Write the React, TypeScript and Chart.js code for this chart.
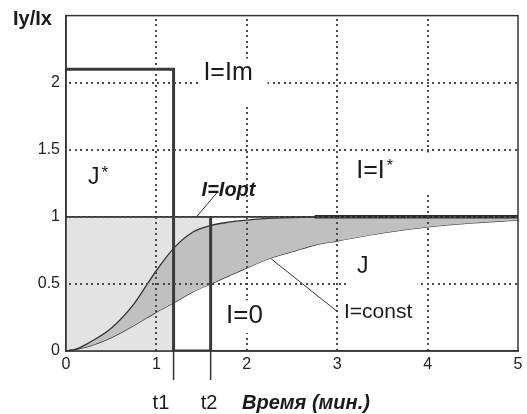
import React, { useEffect, useRef } from 'react';
import { Chart, registerables } from 'chart.js';

Chart.register(...registerables);

// ---- data ----
const T1 = 1.19;
const T2 = 1.6;
const I_MAX = 2.1;

const TIME_OPT = [0, 0.1, 0.25, 0.5, 0.75, 0.9, 1.0, 1.19, 1.4, 1.6, 1.8, 2.0, 2.3, 2.75, 3.5, 4.25, 5];
const I_OPT = [0, 0.01, 0.06, 0.17, 0.35, 0.5, 0.6, 0.765, 0.885, 0.935, 0.96, 0.975, 0.99, 0.998, 1.0, 1.0, 1.0];

const TIME_CONST = [0, 0.25, 0.5, 0.75, 1.0, 1.19, 1.4, 1.6, 1.8, 2.0, 2.25, 2.5, 2.75, 3.0, 3.5, 4.0, 4.5, 5.0];
const I_CONST = [0, 0.035, 0.1, 0.19, 0.29, 0.36, 0.44, 0.5, 0.56, 0.62, 0.69, 0.74, 0.79, 0.82, 0.88, 0.925, 0.955, 0.975];

const IM_PATH_T = [0, T1, T1, T2, T2];
const IM_PATH_V = [I_MAX, I_MAX, 0, 0, 1];

const ISTAR_T = [2.75, 5];
const ISTAR_V = [1, 1];

const ONE_T = [0, 5];
const ONE_V = [1, 1];

const JSTAR_A_T = [0, T1];
const JSTAR_A_V = [1, 1];
const JSTAR_B_T = [T1, T2];
const JSTAR_B_V = [1, 1];

const LEAD_OPT_T = [1.67, 1.23];
const LEAD_OPT_V = [1.18, 0.83];
const LEAD_CONST_T = [2.27, 2.99];
const LEAD_CONST_V = [0.687, 0.3];

const X_MIN = 0, X_MAX = 5, X_STEP = 1;
const Y_MIN = 0, Y_MAX = 2.5, Y_STEP = 0.5;

const pts = (xs: number[], ys: number[]) => xs.map((x, i) => ({ x, y: ys[i] }));

const FONT = "'Liberation Sans', Arial, sans-serif";
const INK = '#222';
const LIGHT = '#e3e3e3';
const DARK = '#c0c0c0';

export default function App() {
  const ref = useRef<HTMLCanvasElement>(null);

  useEffect(() => {
    const canvas = ref.current;
    if (!canvas) return;

    const annot = {
      id: 'annot',
      afterDraw(chart: any) {
        const { ctx, chartArea: a, scales } = chart;
        const X = (v: number) => scales.x.getPixelForValue(v);
        const Y = (v: number) => scales.y.getPixelForValue(v);
        ctx.save();

        // dotted grid at the scales' own ticks (dots drawn as tiny squares)
        ctx.fillStyle = '#4a4a4a';
        const GAP = 5.5;
        for (const t of scales.x.ticks) {
          if (t.value <= X_MIN || t.value >= X_MAX) continue;
          const px = Math.round(X(t.value)) - 1;
          for (let y = a.top + 3; y < a.bottom - 1; y += GAP) ctx.fillRect(px, Math.round(y), 2, 2);
        }
        for (const t of scales.y.ticks) {
          if (t.value <= Y_MIN || t.value >= Y_MAX) continue;
          const py = Math.round(Y(t.value)) - 1;
          for (let x = a.left + 3; x < a.right - 1; x += GAP) ctx.fillRect(Math.round(x), py, 2, 2);
        }

        // white label boxes that interrupt the grid
        ctx.fillStyle = '#fff';
        const boxes = [
          [1.48, 2.23, 1.82, 2.18],
          [3.03, 4.05, 1.18, 1.48],
          [3.14, 3.89, 0.415, 0.71],
          [1.73, 2.28, 0.134, 0.378],
        ];
        for (const b of boxes) {
          ctx.fillRect(X(b[0]), Y(b[3]), X(b[1]) - X(b[0]), Y(b[2]) - Y(b[3]));
        }

        // frame
        ctx.strokeStyle = '#333';
        ctx.lineWidth = 1.5;
        ctx.strokeRect(a.left, a.top, a.right - a.left, a.bottom - a.top);

        // t1 / t2 extensions below the axis
        ctx.beginPath();
        ctx.moveTo(X(T1), a.bottom);
        ctx.lineTo(X(T1), a.bottom + 29);
        ctx.moveTo(X(T2), a.bottom);
        ctx.lineTo(X(T2), a.bottom + 29);
        ctx.stroke();

        ctx.fillStyle = '#1a1a1a';
        ctx.textAlign = 'left';
        ctx.textBaseline = 'alphabetic';
        const txt = (s: string, x: number, y: number, font: string) => {
          ctx.font = font;
          ctx.fillText(s, x, y);
          return ctx.measureText(s).width;
        };

        txt('Iy/Ix', 13, 25, `bold 20px ${FONT}`);
        txt('I=Im', X(1.52), Y(2.02), `25px ${FONT}`);
        let w = txt('J', X(0.243), Y(1.246), `23px ${FONT}`);
        txt('*', X(0.243) + w + 2, Y(1.246) - 6, `17px ${FONT}`);
        txt('I=Iopt', X(1.5), Y(1.157), `italic bold 20px ${FONT}`);
        w = txt('I=I', X(3.21), Y(1.29), `25px ${FONT}`);
        txt('*', X(3.21) + w + 2, Y(1.29) - 7, `16px ${FONT}`);
        txt('J', X(3.22), Y(0.58), `23px ${FONT}`);
        txt('I=0', X(1.77), Y(0.208), `26px ${FONT}`);
        txt('I=const', X(3.075), Y(0.245), `21px ${FONT}`);

        txt('t1', X(T1) - 21, 409, `20px ${FONT}`);
        txt('t2', X(T2) - 10, 409, `20px ${FONT}`);
        txt('Время (мин.)', 242, 409, `italic bold 20px ${FONT}`);

        ctx.restore();
      },
    };

    const base = { pointRadius: 0, pointHoverRadius: 0, fill: false as any };

    const chart = new Chart(canvas, {
      type: 'line',
      data: {
        datasets: [
          { ...base, data: pts(IM_PATH_T, IM_PATH_V), borderColor: '#3a3a3a', borderWidth: 3, tension: 0 },
          { ...base, data: pts(ISTAR_T, ISTAR_V), borderColor: '#2a2a2a', borderWidth: 3.5, tension: 0 },
          { ...base, data: pts(ONE_T, ONE_V), borderColor: '#333', borderWidth: 1.6, tension: 0 },
          { ...base, data: pts(TIME_OPT, I_OPT), borderColor: '#333', borderWidth: 1.3, cubicInterpolationMode: 'monotone', fill: { target: 4 }, backgroundColor: DARK },
          { ...base, data: pts(TIME_CONST, I_CONST), borderColor: '#333', borderWidth: 1.3, cubicInterpolationMode: 'monotone' },
          { ...base, data: pts(JSTAR_B_T, JSTAR_B_V), borderWidth: 0, borderColor: 'rgba(0,0,0,0)', fill: { target: 3 }, backgroundColor: LIGHT, tension: 0 },
          { ...base, data: pts(JSTAR_A_T, JSTAR_A_V), borderWidth: 0, borderColor: 'rgba(0,0,0,0)', fill: 'origin', backgroundColor: LIGHT, tension: 0 },
          { ...base, data: pts(LEAD_OPT_T, LEAD_OPT_V), borderColor: '#333', borderWidth: 1, tension: 0 },
          { ...base, data: pts(LEAD_CONST_T, LEAD_CONST_V), borderColor: '#333', borderWidth: 1, tension: 0 },
        ] as any,
      },
      options: {
        animation: false,
        responsive: false,
        devicePixelRatio: 1,
        events: [],
        layout: { padding: { top: 14, right: 9, left: 0, bottom: 0 } },
        plugins: { legend: { display: false }, tooltip: { enabled: false } },
        scales: {
          x: {
            type: 'linear',
            min: X_MIN,
            max: X_MAX,
            afterFit: (s: any) => { s.height = 63; },
            ticks: { stepSize: X_STEP, padding: 4, color: INK, font: { family: FONT, size: 16 } },
            grid: { display: false, drawTicks: false },
            border: { display: true, color: '#333', width: 1.5 },
          },
          y: {
            type: 'linear',
            min: Y_MIN,
            max: Y_MAX,
            afterFit: (s: any) => { s.width = 66; },
            ticks: {
              stepSize: Y_STEP,
              padding: 6,
              color: INK,
              font: { family: FONT, size: 16 },
              callback: (v: any) => (v >= Y_MAX ? '' : String(v)),
            },
            grid: { display: false, drawTicks: false },
            border: { display: true, color: '#333', width: 1.5 },
          },
        },
      } as any,
      plugins: [annot],
    });

    return () => chart.destroy();
  }, []);

  return (
    <div style={{ position: 'absolute', left: 0, top: 0, width: 527, height: 414, background: '#fff' }}>
      <canvas ref={ref} width={527} height={414} style={{ display: 'block' }} />
    </div>
  );
}
